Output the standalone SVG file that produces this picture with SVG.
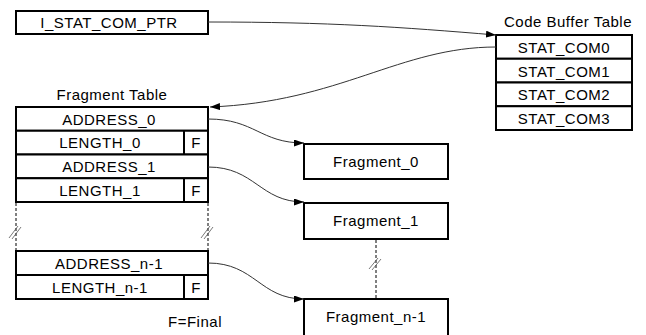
<svg xmlns="http://www.w3.org/2000/svg" width="646" height="335" viewBox="0 0 646 335">
<defs>
<style>
.box{fill:#fff;stroke:#000;stroke-width:2}
.t{font-family:"Liberation Sans",Arial,sans-serif;font-size:15px;letter-spacing:0.5px;fill:#000;text-anchor:middle}
.c{fill:none;stroke:#333;stroke-width:1}
.d{fill:none;stroke:#000;stroke-width:1;stroke-dasharray:3,2}
.s{fill:none;stroke:#555;stroke-width:0.8}
</style>
<marker id="ah" markerWidth="10" markerHeight="7" refX="10" refY="3.5" orient="auto" markerUnits="userSpaceOnUse">
<path d="M0,0 L10,3.5 L0,7 Z" fill="#000"/>
</marker>
</defs>
<rect width="646" height="335" fill="#fff"/>

<g id="ptr">
<rect class="box" x="16" y="11" width="192" height="23"/>
<text class="t" x="109" y="28">I_STAT_COM_PTR</text>
</g>

<g id="codebuffer">
<text class="t" x="568" y="27">Code Buffer Table</text>
<rect class="box" x="496" y="35" width="136" height="23.75"/>
<rect class="box" x="496" y="58.75" width="136" height="23.75"/>
<rect class="box" x="496" y="82.5" width="136" height="23.75"/>
<rect class="box" x="496" y="106.25" width="136" height="23.75"/>
<text class="t" x="564" y="52.5">STAT_COM0</text>
<text class="t" x="564" y="76.5">STAT_COM1</text>
<text class="t" x="564" y="100">STAT_COM2</text>
<text class="t" x="564" y="124">STAT_COM3</text>
</g>

<g id="fragtable">
<text class="t" x="112" y="100">Fragment Table</text>
<rect class="box" x="16" y="107" width="192" height="23.75"/>
<rect class="box" x="16" y="130.75" width="192" height="23.75"/>
<line class="box" x1="184" y1="130.75" x2="184" y2="154.5"/>
<rect class="box" x="16" y="154.5" width="192" height="23.75"/>
<rect class="box" x="16" y="178.25" width="192" height="23.75"/>
<line class="box" x1="184" y1="178.25" x2="184" y2="202"/>
<text class="t" x="109" y="124.5">ADDRESS_0</text>
<text class="t" x="100" y="148">LENGTH_0</text>
<text class="t" x="196" y="148">F</text>
<text class="t" x="109" y="172">ADDRESS_1</text>
<text class="t" x="100" y="195.5">LENGTH_1</text>
<text class="t" x="196" y="195.5">F</text>
<line class="d" x1="16" y1="203" x2="16" y2="251"/>
<line class="d" x1="208" y1="203" x2="208" y2="251"/>
<line class="s" x1="9" y1="238" x2="18" y2="226"/>
<line class="s" x1="12" y1="239" x2="21" y2="227"/>
<line class="s" x1="201" y1="238" x2="210" y2="226"/>
<line class="s" x1="204" y1="239" x2="213" y2="227"/>
<rect class="box" x="16" y="251" width="192" height="24"/>
<rect class="box" x="16" y="275" width="192" height="24"/>
<line class="box" x1="184" y1="275" x2="184" y2="299"/>
<text class="t" x="109" y="268.5">ADDRESS_n-1</text>
<text class="t" x="100" y="292.5">LENGTH_n-1</text>
<text class="t" x="196" y="292.5">F</text>
<text class="t" x="195" y="327">F=Final</text>
</g>

<g id="frag0">
<rect class="box" x="304" y="144" width="144" height="35"/>
<text class="t" x="376" y="166.5">Fragment_0</text>
</g>
<g id="frag1">
<rect class="box" x="304" y="203" width="144" height="36"/>
<text class="t" x="376" y="226">Fragment_1</text>
</g>
<g id="fragn">
<rect class="box" x="304" y="299" width="144" height="38"/>
<text class="t" x="376" y="322">Fragment_n-1</text>
</g>

<g id="connectors">
<path class="c" d="M208,22 C330,22 400,27 496,35" marker-end="url(#ah)"/>
<path class="c" d="M496,47 C400,47 340,102 210,107" marker-end="url(#ah)"/>
<path class="c" d="M208,119 C255,119 260,143 304,143" marker-end="url(#ah)"/>
<path class="c" d="M208,167 C255,167 260,202 304,202" marker-end="url(#ah)"/>
<path class="c" d="M208,263 C255,263 260,299 304,299" marker-end="url(#ah)"/>
<line class="d" x1="376" y1="240" x2="376" y2="299"/>
<line class="s" x1="369" y1="269" x2="378" y2="258"/>
<line class="s" x1="372" y1="270" x2="381" y2="259"/>
</g>
</svg>
